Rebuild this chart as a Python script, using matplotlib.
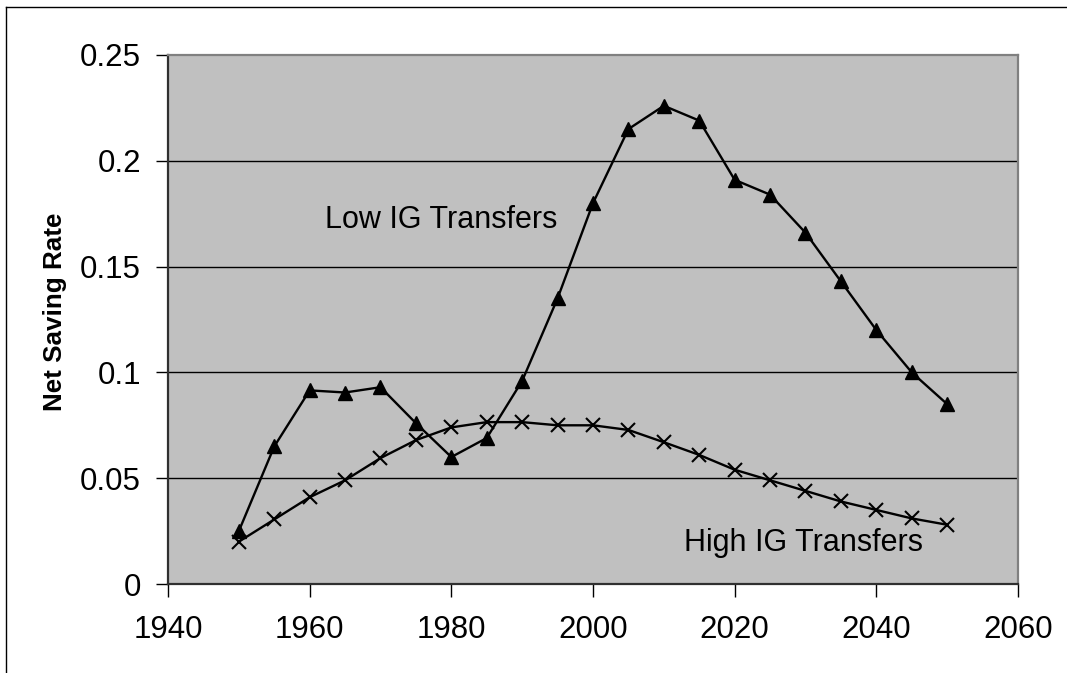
"""Net saving rate under low vs high intergenerational transfers."""

import matplotlib

matplotlib.use("Agg")
import matplotlib.pyplot as plt
from matplotlib.lines import Line2D

plt.rcParams["font.family"] = ["Liberation Sans", "DejaVu Sans"]

years = list(range(1950, 2051, 5))

low_ig = [0.025, 0.065, 0.0915, 0.0905, 0.093, 0.076, 0.060, 0.069, 0.096,
          0.135, 0.180, 0.215, 0.226, 0.219, 0.191, 0.184, 0.166, 0.143,
          0.120, 0.100, 0.085]

high_ig = [0.020, 0.0305, 0.041, 0.049, 0.0595, 0.068, 0.074, 0.0765, 0.0765,
           0.075, 0.075, 0.0728, 0.067, 0.061, 0.054, 0.049, 0.044, 0.039,
           0.035, 0.031, 0.028]

y_ticks = [0, 0.05, 0.1, 0.15, 0.2, 0.25]
x_ticks = [1940, 1960, 1980, 2000, 2020, 2040, 2060]

fig = plt.figure(figsize=(10.67, 6.73), dpi=100)
ax = fig.add_axes([168 / 1067, 89 / 673, 850 / 1067, 529 / 673])
ax.set_facecolor("#C0C0C0")

for t in y_ticks[1:-1]:
    ax.axhline(t, color="black", lw=1.0, zorder=1)

ax.plot(years, low_ig, color="black", lw=1.7, marker="^", markersize=10.5,
        zorder=3, clip_on=False)
ax.plot(years, high_ig, color="black", lw=1.7, marker="x", markersize=10.5,
        markeredgewidth=1.5, zorder=3, clip_on=False)

ax.text(1962.2, 0.172, "Low IG Transfers", fontsize=22, va="center")
ax.text(2012.8, 0.0195, "High IG Transfers", fontsize=22, va="center")

ax.set_xlim(1940, 2060)
ax.set_ylim(0, 0.25)
ax.set_xticks(x_ticks)
ax.set_yticks(y_ticks)
ax.set_yticklabels([f"{t:g}" for t in y_ticks])
ax.tick_params(axis="both", direction="out", length=9, width=1.0,
               labelsize=22.5, color="black")
ax.tick_params(axis="x", pad=13)
ax.tick_params(axis="y", pad=10.5)

ax.set_ylabel("Net Saving Rate", fontsize=18.7, fontweight="bold")
ax.yaxis.set_label_coords(-0.119, 0.515)

for side in ("left", "bottom"):
    ax.spines[side].set_color("#303030")
    ax.spines[side].set_linewidth(1.6)
for side in ("top", "right"):
    ax.spines[side].set_color("#808080")
    ax.spines[side].set_linewidth(1.6)

# outer chart border (only left/top visible in the crop)
fig.add_artist(Line2D([6 / 1067, 6 / 1067], [0, 1 - 7 / 673],
                      transform=fig.transFigure, color="black", lw=1.0))
fig.add_artist(Line2D([6 / 1067, 1], [1 - 7 / 673, 1 - 7 / 673],
                      transform=fig.transFigure, color="black", lw=1.0))

fig.savefig("out.png", dpi=100)
